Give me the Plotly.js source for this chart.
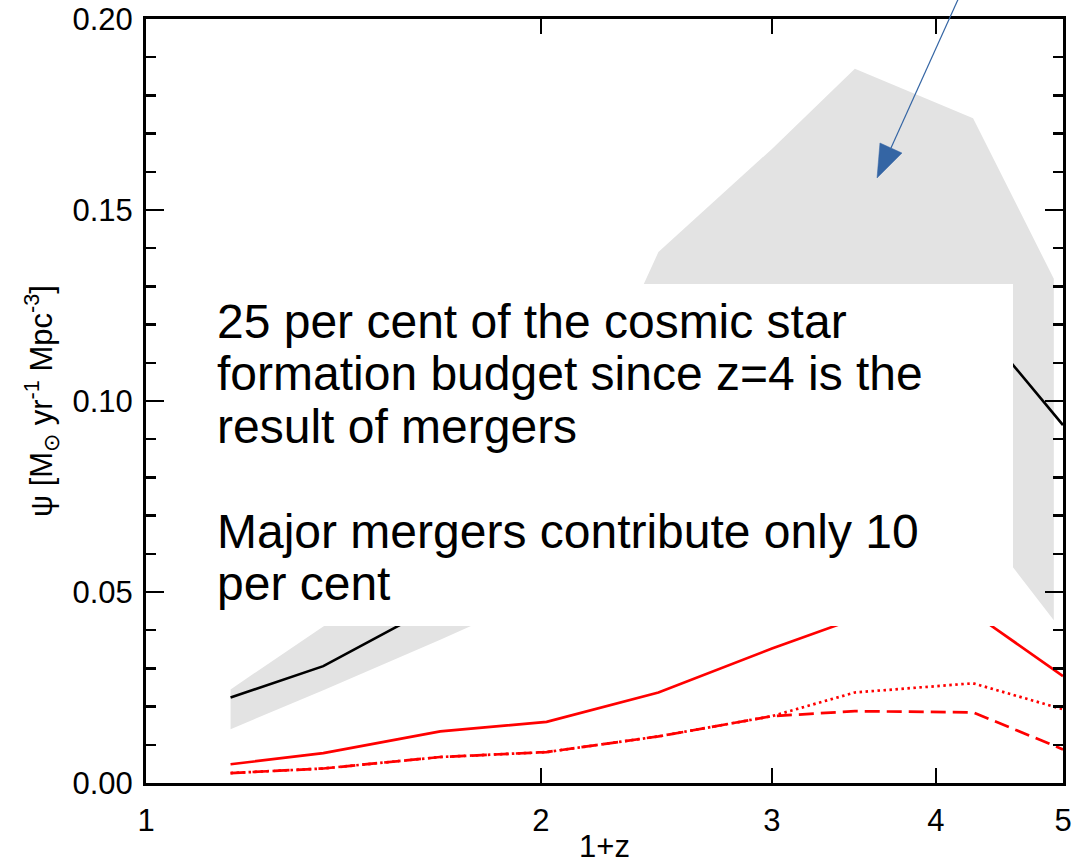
<!DOCTYPE html>
<html>
<head>
<meta charset="utf-8">
<script src="https://cdn.plot.ly/plotly-3.0.1.min.js"></script>
<style>html,body{margin:0;padding:0;background:#fff;}#chart{width:1073px;height:864px;}</style>
</head>
<body>
<div id="chart"></div>
<script>
// 1+z positions of the model points
var onePlusZ = [1.16, 1.365, 1.676, 2.02, 2.458, 3.0, 3.47, 4.27, 5.0];
// total star formation rate density (black)
var totalSFR = [0.0224, 0.0306, 0.047, 0.065, 0.085, 0.102, 0.113, 0.122, 0.0937];
// merger-driven star formation (red solid)
var mergerSFR = [0.0049, 0.0078, 0.0135, 0.0160, 0.0237, 0.0352, 0.043, 0.0445, 0.028];
// minor mergers (red dotted)
var minorSFR = [0.0026, 0.0038, 0.0068, 0.0081, 0.0122, 0.0175, 0.0237, 0.0261, 0.0193];
// major mergers (red dashed)
var majorSFR = [0.0026, 0.0038, 0.0068, 0.0081, 0.0122, 0.0175, 0.0188, 0.0185, 0.0088];
// observational band (grey)
var bandX = [1.16, 1.365, 1.676, 2.02, 2.458, 3.0, 3.47, 4.27, 4.92];
var bandUpper = [0.0245, 0.041, 0.057, 0.075, 0.139, 0.166, 0.187, 0.174, 0.132];
var bandLower = [0.0141, 0.0243, 0.0375, 0.050, 0.060, 0.068, 0.073, 0.070, 0.0426];
// axis ticks
var xTickVals = [1, 2, 3, 4, 5];
var xTickText = ['1', '2', '3', '4', '5'];
var yTickVals = [0, 0.05, 0.10, 0.15, 0.20];
var yTickText = ['0.00', '0.05', '0.10', '0.15', '0.20'];
// annotation text lines
var noteLines = [
  '25 per cent of the cosmic star',
  'formation budget since z=4 is the',
  'result of mergers',
  'Major mergers contribute only 10',
  'per cent'
];
var noteY = [0.6042, 0.5355, 0.4668, 0.3293, 0.2606];

var FONT = 'Liberation Sans, Arial, Helvetica, sans-serif';

var polyX = bandX.concat(bandX.slice().reverse());
var polyY = bandUpper.concat(bandLower.slice().reverse());

var traces = [
  {x: polyX, y: polyY, type: 'scatter', mode: 'lines', fill: 'toself',
   fillcolor: '#e3e3e3', line: {width: 0, color: '#e3e3e3'}, hoverinfo: 'skip'},
  {x: onePlusZ, y: totalSFR, type: 'scatter', mode: 'lines',
   line: {color: '#000000', width: 2.6}},
  {x: onePlusZ, y: mergerSFR, type: 'scatter', mode: 'lines',
   line: {color: '#ff0000', width: 2.7}},
  {x: onePlusZ, y: minorSFR, type: 'scatter', mode: 'lines',
   line: {color: '#ff0000', width: 2.7, dash: '2.5px,3.5px'}},
  {x: onePlusZ, y: majorSFR, type: 'scatter', mode: 'lines',
   line: {color: '#ff0000', width: 2.7, dash: '15px,7px'}}
];

var annotations = noteLines.map(function(t, i) {
  return {text: t, xref: 'paper', yref: 'paper', x: 0.0752, y: noteY[i],
          xanchor: 'left', yanchor: 'middle', showarrow: false, align: 'left',
          font: {family: FONT, size: 48, color: '#000000'}};
});

var layout = {
  width: 1073, height: 864,
  margin: {l: 146, r: 10, t: 19, b: 81, pad: 0},
  paper_bgcolor: '#ffffff', plot_bgcolor: '#ffffff',
  showlegend: false,
  font: {family: FONT, color: '#000000', size: 31},
  xaxis: {
    type: 'log', range: [0, Math.log10(5)], autorange: false,
    tickvals: xTickVals, ticktext: xTickText,
    ticks: 'inside', ticklen: 15, tickwidth: 2.5, tickcolor: '#000',
    showline: true, linewidth: 3, linecolor: '#000', mirror: 'ticks',
    showgrid: false, zeroline: false,
    tickfont: {family: FONT, size: 31, color: '#000'},
    ticklabelstandoff: 8,
    title: {text: '1+z', font: {family: FONT, size: 31, color: '#000'}, standoff: 4}
  },
  yaxis: {
    range: [0, 0.20], autorange: false,
    tickvals: yTickVals, ticktext: yTickText,
    ticks: 'inside', ticklen: 18, tickwidth: 2.5, tickcolor: '#000',
    minor: {dtick: 0.01, ticks: 'inside', ticklen: 10, tickwidth: 2.5, tickcolor: '#000', showgrid: false},
    showline: true, linewidth: 3, linecolor: '#000', mirror: 'ticks',
    showgrid: false, zeroline: false,
    tickfont: {family: FONT, size: 31, color: '#000'},
    ticklabelstandoff: 4,
    title: {text: 'ψ [M<sub>⊙</sub> yr<sup>-1</sup> Mpc<sup>-3</sup>]',
            font: {family: FONT, size: 31, color: '#000'}, standoff: 11}
  },
  shapes: [
    {type: 'rect', xref: 'paper', yref: 'paper', x0: 0.0425, x1: 0.9455, y0: 0.2055, y1: 0.6531,
     fillcolor: '#ffffff', line: {width: 0}, layer: 'above'},
    {type: 'line', xref: 'paper', yref: 'paper', x0: 0.8877, y0: 1.0314, x1: 0.8124, y1: 0.8312,
     line: {color: '#3465a4', width: 1.2}, layer: 'above'},
    {type: 'path', xref: 'paper', yref: 'paper',
     path: 'M 0.7972,0.7919 L 0.8004,0.8377 L 0.8244,0.8246 Z',
     fillcolor: '#3465a4', line: {color: '#3465a4', width: 0.5}, layer: 'above'}
  ],
  annotations: annotations
};

Plotly.newPlot('chart', traces, layout, {staticPlot: true, displayModeBar: false});
</script>
</body>
</html>
